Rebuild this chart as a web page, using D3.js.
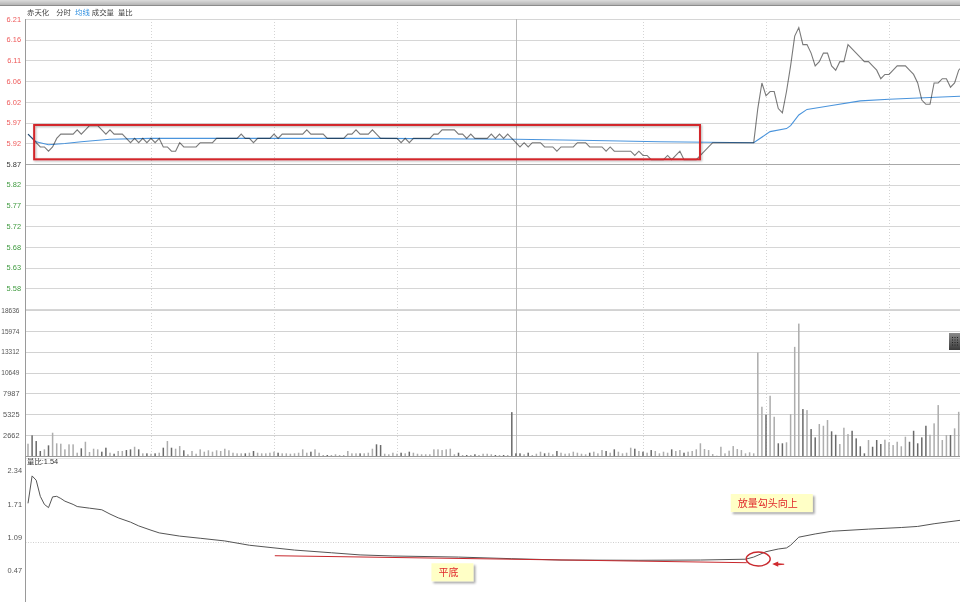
<!DOCTYPE html>
<html><head><meta charset="utf-8">
<script src="https://cdn.jsdelivr.net/npm/d3@7"></script>
<style>
body{margin:0;background:#fff;}
svg{display:block;font-family:"Liberation Sans","Noto Sans CJK SC",sans-serif;}
</style></head><body>
<svg id="c" width="960" height="602"></svg>
<script>
// ---------------- data ----------------
const stockName = "赤天化";
const headerItems = ["分时", "均线", "成交量", "量比"];
const preClose = 5.87;
const priceLimit = 0.34;
const priceTickLabels = ["6.21","6.16","6.11","6.06","6.02","5.97","5.92","5.87","5.82","5.77","5.72","5.68","5.63","5.58"];
const volumeTicks = [18636, 15974, 13312, 10649, 7987, 5325, 2662];
const ratioTicks = [2.34, 1.71, 1.09, 0.47];
const ratioLabel = "量比:1.54";
const gridMinutes = [30, 60, 90, 119, 150, 180, 210];
const middayMinute = 119;

// minute-by-minute price
const price = [
5.94,5.93,5.92,5.91,5.91,5.90,5.91,5.93,5.94,5.94,
5.94,5.94,5.95,5.94,5.95,5.96,5.96,5.96,5.95,5.94,
5.95,5.94,5.94,5.94,5.93,5.92,5.93,5.92,5.93,5.92,
5.93,5.92,5.93,5.91,5.91,5.90,5.90,5.92,5.91,5.91,
5.91,5.91,5.92,5.92,5.92,5.92,5.93,5.93,5.93,5.93,
5.93,5.93,5.94,5.93,5.93,5.92,5.93,5.93,5.93,5.93,
5.94,5.93,5.94,5.94,5.94,5.94,5.94,5.94,5.95,5.94,
5.94,5.94,5.94,5.93,5.93,5.93,5.93,5.93,5.94,5.94,
5.95,5.94,5.94,5.94,5.95,5.94,5.93,5.93,5.93,5.93,
5.93,5.92,5.93,5.92,5.93,5.93,5.93,5.93,5.93,5.94,
5.94,5.95,5.95,5.95,5.95,5.94,5.94,5.93,5.94,5.93,
5.93,5.93,5.93,5.94,5.93,5.94,5.93,5.94,5.93,5.92,
5.91,5.92,5.91,5.92,5.92,5.92,5.91,5.91,5.91,5.90,
5.91,5.91,5.91,5.91,5.92,5.92,5.92,5.91,5.91,5.91,
5.91,5.90,5.91,5.90,5.90,5.90,5.90,5.90,5.89,5.90,
5.89,5.89,5.88,5.88,5.88,5.88,5.89,5.88,5.89,5.90,
5.88,5.88,5.88,5.88,5.89,5.90,5.91,5.92,5.92,5.92,
5.92,5.92,5.92,5.92,5.92,5.92,5.92,5.92,6.00,6.06,
6.03,6.04,6.04,6.00,5.99,6.04,6.10,6.17,6.19,6.15,
6.15,6.13,6.10,6.11,6.13,6.13,6.10,6.09,6.11,6.11,
6.15,6.14,6.13,6.12,6.11,6.11,6.10,6.09,6.07,6.08,
6.08,6.09,6.10,6.10,6.10,6.09,6.08,6.06,6.02,6.01,
6.01,6.06,6.06,6.07,6.07,6.05,6.06,6.09,6.10
];

// minute-by-minute volume
const volume = [
1570,2640,1910,640,850,1360,2970,1620,1570,850,
1490,1490,420,980,1820,510,930,850,550,1060,
420,290,640,640,760,850,1180,850,340,340,
290,340,420,1060,1910,1060,930,1270,730,220,
640,290,850,550,730,550,730,640,930,730,
420,340,340,340,420,640,420,340,340,420,
550,420,340,340,290,340,420,850,420,550,
850,420,130,130,130,220,130,130,640,340,
340,340,340,420,930,1490,1400,290,220,420,
290,420,340,550,420,290,220,220,220,850,
850,760,850,930,220,420,130,130,130,220,
130,290,290,220,130,130,130,130,5600,340,
340,220,420,130,290,550,340,420,220,640,
420,290,340,550,420,290,220,420,550,340,
760,640,420,850,550,340,420,1060,930,640,
550,420,760,640,340,550,420,850,640,760,
420,550,640,850,1620,890,760,250,40,1180,
340,680,1270,890,760,340,470,340,13210,6290,
5270,7690,5010,1620,1620,1750,5350,13930,16900,5990,
5860,3440,2380,4080,3860,4590,3150,2710,1530,3610,
2800,3220,2250,1240,340,2040,1180,2040,1530,2080,
1750,1400,1820,1240,2460,1820,3220,1620,2380,3860,
2710,4170,6500,2040,2680,2680,3530,5640
];

// average price line (read at these minutes)
const avgTimes  = [0, 2, 5, 9, 13, 20, 30, 86, 119, 138, 154, 166, 177, 181, 185, 186, 188, 190, 196, 203, 210, 220, 228];
const avgPrices = [5.94,5.922,5.915,5.918,5.922,5.928,5.930,5.930,5.928,5.925,5.922,5.921,5.920,5.946,5.953,5.960,5.985,5.998,6.007,6.018,6.022,6.026,6.029];

// volume ratio line (read at these minutes)
const ratioTimes  = [0,1,2,3,4,5,6,7,8,9,10,11,12,15,18,20,22,25,27,30,32,37,42,48,54,65,74,81,89,105,118,130,149,164,175,177,180,183,185,186,188,192,196,205,213,217,221,228];
const ratioValues = [1.72,2.23,2.15,1.85,1.70,1.64,1.84,1.85,1.81,1.76,1.73,1.70,1.66,1.63,1.60,1.52,1.45,1.37,1.30,1.22,1.17,1.11,1.07,1.02,0.94,0.85,0.80,0.76,0.74,0.72,0.69,0.665,0.66,0.665,0.68,0.72,0.82,0.87,0.89,0.94,1.09,1.15,1.20,1.24,1.27,1.29,1.34,1.41];

// annotations (data units)
const boxNote = {t0: 1.5, t1: 163.9, p0: 5.9615, p1: 5.881};
const flatLine = {t0: 60.2, v0: 0.745, t1: 175.3, v1: 0.615};
const hook = {t: 178.1, v: 0.684};
const notes = [
  {text: "平底", t: 98.4, v: 0.604},
  {text: "放量勾头向上", t: 171.4, v: 1.893}
];

// ---------------- layout ----------------
const svg = d3.select("#c");
const W = 960;
const axisX = 25.5;
const fs = 7.4;

const x = d3.scaleLinear().domain([0, 240]).range([28, 1012]);
const yP = d3.scaleLinear().domain([preClose - priceLimit, preClose + priceLimit]).range([309, 19]);
const yV = d3.scaleLinear().domain([0, volumeTicks[0]]).range([456, 310]);
const yR = d3.scaleLinear().domain([0.47, 2.34]).range([570.5, 470]);

const defs = svg.append("defs");
const f1 = defs.append("filter").attr("id","sh").attr("x","-20%").attr("y","-30%").attr("width","150%").attr("height","180%");
f1.append("feDropShadow").attr("dx",2).attr("dy",2).attr("stdDeviation",1.3).attr("flood-color","#000").attr("flood-opacity",0.35);
const f2 = defs.append("filter").attr("id","sh2").attr("x","-5%").attr("y","-20%").attr("width","110%").attr("height","150%");
f2.append("feDropShadow").attr("dx",1).attr("dy",1).attr("stdDeviation",0.8).attr("flood-color","#000").attr("flood-opacity",0.3);
const g1 = defs.append("linearGradient").attr("id","topbar").attr("x1",0).attr("y1",0).attr("x2",0).attr("y2",1);
g1.append("stop").attr("offset","0%").attr("stop-color","#dcdcdc");
g1.append("stop").attr("offset","100%").attr("stop-color","#b4b4b4");
const g2 = defs.append("linearGradient").attr("id","btn").attr("x1",0).attr("y1",0).attr("x2",0).attr("y2",1);
g2.append("stop").attr("offset","0%").attr("stop-color","#8a8a8a");
g2.append("stop").attr("offset","100%").attr("stop-color","#3a3a3a");

svg.append("rect").attr("width",W).attr("height",602).attr("fill","#fff");

// top menu strip
svg.append("rect").attr("x",0).attr("y",0).attr("width",W).attr("height",5).attr("fill","url(#topbar)");
svg.append("line").attr("x1",0).attr("x2",W).attr("y1",5.5).attr("y2",5.5).attr("stroke","#8c8c8c");

// price grid
const nP = priceTickLabels.length;
const pStep = (2 * priceLimit) / nP;
for (let i = 0; i <= nP; i++) {
  const v = preClose + priceLimit - i * pStep;
  svg.append("line").attr("x1",axisX).attr("x2",W).attr("y1",Math.round(yP(v))+0.5).attr("y2",Math.round(yP(v))+0.5)
    .attr("stroke", i === 7 ? "#a8a8a8" : "#d6d6d6");
}
priceTickLabels.forEach((t, i) => {
  const v = preClose + priceLimit - i * pStep;
  svg.append("text").attr("x",21).attr("y",yP(v)).attr("dy","0.36em").attr("text-anchor","end")
    .attr("font-size",fs).attr("fill", i < 7 ? "#ee5a5a" : (i === 7 ? "#333" : "#3f9a3f")).text(t);
});

// volume grid
volumeTicks.forEach(v => {
  svg.append("line").attr("x1",axisX).attr("x2",W).attr("y1",Math.round(yV(v))+0.5).attr("y2",Math.round(yV(v))+0.5).attr("stroke","#d2d2d2");
  const s = String(v);
  const t = svg.append("text").attr("x",19.5).attr("y",yV(v)).attr("dy","0.36em").attr("text-anchor","end")
    .attr("font-size",fs).attr("fill","#555").text(s);
  if (s.length > 4) t.attr("textLength", 18.2).attr("lengthAdjust","spacingAndGlyphs");
});
svg.append("line").attr("x1",axisX).attr("x2",W).attr("y1",yV(0)+0.5).attr("y2",yV(0)+0.5).attr("stroke","#999");

// vertical grid
gridMinutes.forEach(m => {
  const xx = Math.round(x(m)) + 0.5;
  if (m === middayMinute) {
    svg.append("line").attr("x1",xx).attr("x2",xx).attr("y1",19).attr("y2",456).attr("stroke","#b8b8b8");
  } else {
    svg.append("line").attr("x1",xx).attr("x2",xx).attr("y1",19).attr("y2",456).attr("stroke","#d4d4d4").attr("stroke-dasharray","1,2");
  }
});

// ratio panel
svg.append("line").attr("x1",axisX).attr("x2",W).attr("y1",458.5).attr("y2",458.5).attr("stroke","#c8c8c8").attr("stroke-dasharray","1,1");
svg.append("line").attr("x1",axisX).attr("x2",W).attr("y1",Math.round(yR(1))+0.5).attr("y2",Math.round(yR(1))+0.5).attr("stroke","#cfcfcf").attr("stroke-dasharray","1,1.5");
ratioTicks.forEach(v => {
  svg.append("text").attr("x",22).attr("y",yR(v)).attr("dy","0.36em").attr("text-anchor","end")
    .attr("font-size",fs).attr("fill","#555").text(v.toFixed(2));
});
svg.append("text").attr("x",27).attr("y",464).attr("font-size",fs).attr("fill","#333").text(ratioLabel);

// left axis line
svg.append("line").attr("x1",axisX).attr("x2",axisX).attr("y1",19).attr("y2",602).attr("stroke","#9a9a9a");

// header
let hx = 27;
const nameT = svg.append("text").attr("x",hx).attr("y",15).attr("font-size",fs).attr("fill","#444").text(stockName);
hx += nameT.node().getComputedTextLength() + 7;
headerItems.forEach((h, i) => {
  const t = svg.append("text").attr("x",hx).attr("y",15).attr("font-size",fs)
    .attr("fill", h === "均线" ? "#2f8fe0" : "#444").text(h);
  hx += t.node().getComputedTextLength() + (i === 1 ? 2 : 4);
});

// volume bars
svg.append("g").selectAll("rect").data(volume).join("rect")
  .attr("x",(d,i)=>x(i)-0.75).attr("width",1.5)
  .attr("y",d=>yV(d)).attr("height",d=>yV(0)-yV(d))
  .attr("fill",(d,i)=> (price[i] < (i ? price[i-1] : preClose)) ? "#6a6a6a" : "#adadad");

// average line
svg.append("path").datum(avgTimes.map((t,i)=>[t, avgPrices[i]]))
  .attr("d", d3.line().x(d=>x(d[0])).y(d=>yP(d[1])))
  .attr("fill","none").attr("stroke","#4a94dc").attr("stroke-width",1.1);

// price line
svg.append("path").datum(price)
  .attr("d", d3.line().x((d,i)=>x(i)).y(d=>yP(d)))
  .attr("fill","none").attr("stroke","#7a7a7a").attr("stroke-width",1.1)
  .style("mix-blend-mode","multiply");

// ratio line
svg.append("path").datum(ratioTimes.map((t,i)=>[t, ratioValues[i]]))
  .attr("d", d3.line().x(d=>x(d[0])).y(d=>yR(d[1])))
  .attr("fill","none").attr("stroke","#555").attr("stroke-width",1);

// red box annotation
svg.append("rect")
  .attr("x",x(boxNote.t0)).attr("y",yP(boxNote.p0))
  .attr("width",x(boxNote.t1)-x(boxNote.t0)).attr("height",yP(boxNote.p1)-yP(boxNote.p0))
  .attr("fill","none").attr("stroke","#d3262a").attr("stroke-width",2).attr("filter","url(#sh2)");

// flat bottom line, circle, arrow
svg.append("line").attr("x1",x(flatLine.t0)).attr("y1",yR(flatLine.v0)).attr("x2",x(flatLine.t1)).attr("y2",yR(flatLine.v1))
  .attr("stroke","#c8282d").attr("stroke-width",1);
svg.append("ellipse").attr("cx",x(hook.t)).attr("cy",yR(hook.v)).attr("rx",12).attr("ry",7)
  .attr("fill","none").attr("stroke","#c8282d").attr("stroke-width",1.4);
const ax = x(hook.t) + 14, ay = yR(hook.v) + 5;
svg.append("path").attr("d",`M${ax},${ay} L${ax+6},${ay-2.5} L${ax+6},${ay-0.8} L${ax+12},${ay-0.3} L${ax+12},${ay+0.8} L${ax+6},${ay+1.2} L${ax+6},${ay+2.8} Z`)
  .attr("fill","#d02a2e");

// note boxes
notes.forEach(n => {
  const g = svg.append("g");
  const t = g.append("text").attr("x",x(n.t)+7).attr("y",yR(n.v)+13).attr("font-size",10).attr("fill","#e0262a").text(n.text);
  const w = t.node().getComputedTextLength() + 22;
  g.insert("rect","text").attr("x",x(n.t)).attr("y",yR(n.v)).attr("width",w).attr("height",18)
    .attr("fill","#ffffc6").attr("filter","url(#sh)");
});

// scroll button at right
svg.append("rect").attr("x",949).attr("y",333).attr("width",12).attr("height",17).attr("fill","url(#btn)");
for (let r = 0; r < 4; r++) for (let c = 0; c < 3; c++) {
  svg.append("rect").attr("x",952+c*2.5).attr("y",337+r*2.5).attr("width",1).attr("height",1).attr("fill","#222");
}
</script>
</body></html>
